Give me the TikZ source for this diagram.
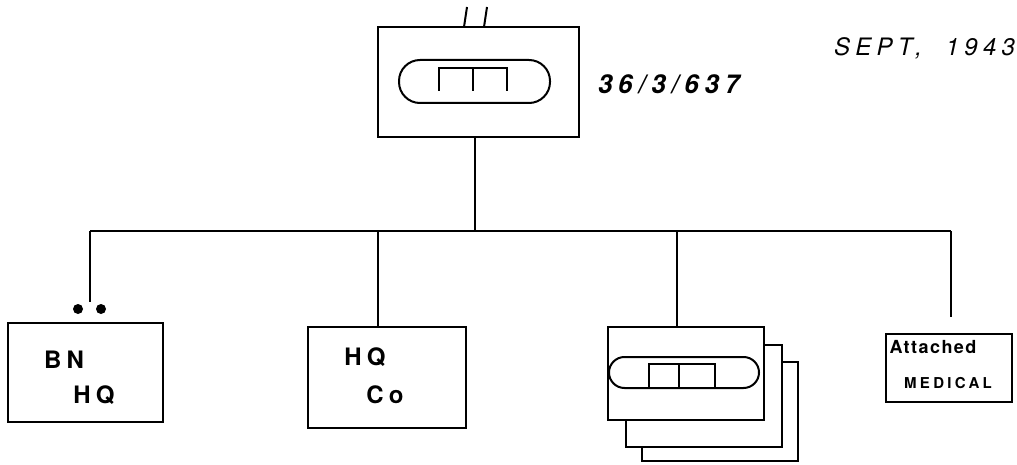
\documentclass[tikz,border=0pt]{standalone}
\usepackage{fontspec}
\setmainfont{TeX Gyre Heros}
\newfontfamily\hand[LetterSpace=22]{TeX Gyre Heros}
\newfontfamily\handtight[LetterSpace=8]{TeX Gyre Heros}
\begin{document}
\begin{tikzpicture}[x=1pt,y=-1pt,line width=2pt,
  box/.style={draw,line width=2pt,fill=white,inner sep=0pt},
  oval/.style={draw,line width=2pt,rounded corners=#1,inner sep=0pt},
  dotmark/.style={circle,fill=black,inner sep=0pt,minimum size=10pt},
  lbl/.style={inner sep=0pt,font=\hand}]
\useasboundingbox (0,0) rectangle (1017,465);
% top unit
\node[box,minimum width=201pt,minimum height=110pt] (top) at (478.5,82) {};
\node[oval=21pt,minimum width=151pt,minimum height=43pt] (topoval) at (474.5,81.5) {};
\draw (439,91) -- (439,68) -- (507,68) -- (507,91) (473,68) -- (473,91);
\coordinate (tickA) at (467,7);
\coordinate (tickB) at (487,7);
\coordinate (tickAb) at (464,27);
\coordinate (tickBb) at (484,27);
\draw (tickA) -- (tickAb) (tickB) -- (tickBb);
\node[lbl,anchor=west,font=\hand\itshape\bfseries\fontsize{26}{30}\selectfont] (unitid) at (597,84) {36/3/637};
\node[lbl,anchor=west,font=\hand\itshape\fontsize{24}{28}\selectfont] (date) at (833,48) {SEPT,\ \ 1943};
% bus
\coordinate (busL) at (90,231);
\coordinate (busR) at (951,231);
\coordinate (busC) at (475,231);
\draw (top.south -| busC) -- (busC);
\draw (busL) -- (busR);
% BN HQ
\node[box,minimum width=155pt,minimum height=99pt] (bn) at (85.5,372.5) {};
\coordinate (bnend) at (90,302);
\draw (busL) -- (bnend);
\node[dotmark] (dotA) at (78,309) {};
\node[dotmark] (dotB) at (101,309) {};
\node[lbl,font=\hand\bfseries\fontsize{24}{28}\selectfont] (bnA) at (64,360) {BN};
\node[lbl,font=\hand\bfseries\fontsize{24}{28}\selectfont] (bnB) at (94,395) {HQ};
% HQ Co
\node[box,minimum width=158pt,minimum height=101pt] (hqco) at (387,377.5) {};
\coordinate (tapB) at (378,231);
\draw (tapB) -- (tapB |- hqco.north);
\node[lbl,font=\hand\bfseries\fontsize{24}{28}\selectfont] (hqA) at (365,357) {HQ};
\node[lbl,font=\hand\bfseries\fontsize{24}{28}\selectfont] (hqB) at (385,395) {Co};
% stacked companies
\node[box,minimum width=156pt,minimum height=99pt] (back3) at (720,411.5) {};
\node[box,minimum width=156pt,minimum height=102pt] (back2) at (704,396) {};
\node[box,minimum width=156pt,minimum height=93pt] (front) at (686,373.5) {};
\node[oval=15.5pt,minimum width=150pt,minimum height=31pt] (frontoval) at (684,372.5) {};
\draw (649,387) -- (649,364) -- (715,364) -- (715,387) (679,364) -- (679,387);
\coordinate (tapC) at (677,231);
\draw (tapC) -- (tapC |- front.north);
% medical
\node[box,minimum width=126pt,minimum height=68pt] (med) at (949,368) {};
\coordinate (medend) at (951,317);
\draw (busR) -- (medend);
\node[lbl,font=\handtight\bfseries\fontsize{18}{22}\selectfont] (medA) at (933,347) {Attached};
\node[lbl,font=\hand\bfseries\fontsize{15}{18}\selectfont] (medB) at (948,383) {MEDICAL};
\end{tikzpicture}
\end{document}
